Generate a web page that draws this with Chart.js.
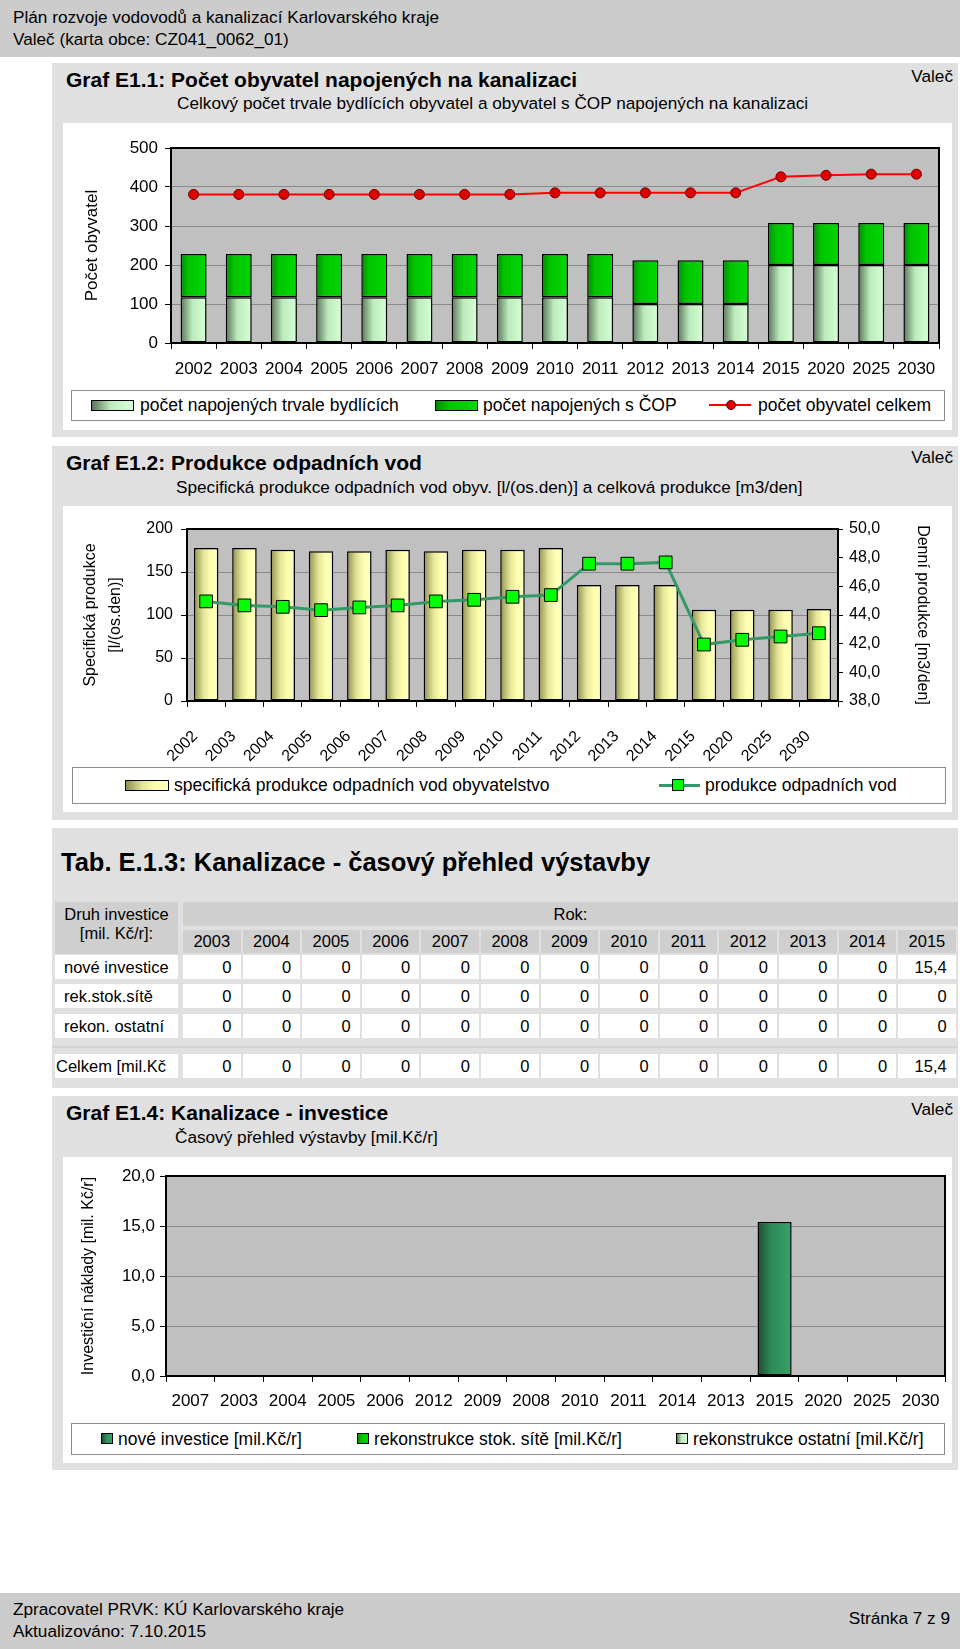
<!DOCTYPE html>
<html lang="cs">
<head>
<meta charset="utf-8">
<title>Kanalizace – Valeč</title>
<script src="https://cdn.jsdelivr.net/npm/chart.js@4.4.1/dist/chart.umd.min.js"></script>
<style>
  html, body { margin: 0; padding: 0; }
  body { position: relative; width: 960px; height: 1649px; overflow: hidden; background: #fff;
         font-family: "Liberation Sans", Arial, sans-serif; color: #000; }
  .band { position: absolute; left: 0; width: 960px; background: #cccccc; }
  .panel { position: absolute; left: 52px; width: 906px; background: #e0e0e0; }
  .white { position: absolute; left: 63px; width: 889px; background: #fff; }
  .t { position: absolute; white-space: nowrap; line-height: 1; font-size: 17.2px; }
  .h1 { font-size: 21px; font-weight: bold; }
  .h2 { font-size: 25.5px; font-weight: bold; }
  canvas { position: absolute; }
  .legend { position: absolute; background: #fff; border: 1px solid #8c8c8c; box-sizing: border-box; font-size: 17.5px; }
  .legend .lab { position: absolute; top: 0; white-space: nowrap; }
  .legend .sw { position: absolute; box-sizing: border-box; border: 1.5px solid #000; }
  .legend .ln { position: absolute; }
  .legend .mk { position: absolute; box-sizing: border-box; border: 1px solid #000; }
  .cell { position: absolute; box-sizing: border-box; font-size: 16.5px; white-space: nowrap; overflow: hidden; }
</style>
</head>
<body>

<div class="band" style="top:0;height:57px"></div>
<div class="t" style="left:13px;top:9.4px">Plán rozvoje vodovodů a kanalizací Karlovarského kraje</div>
<div class="t" style="left:13px;top:31.4px">Valeč (karta obce: CZ041_0062_01)</div>

<!-- Graf E1.1 -->
<div class="panel" style="top:63px;height:374px"></div>
<div class="t h1" style="left:66px;top:68.5px">Graf E1.1: Počet obyvatel napojených na kanalizaci</div>
<div class="t" style="right:7px;top:68.4px">Valeč</div>
<div class="t" style="left:177px;top:95.4px">Celkový počet trvale bydlících obyvatel a obyvatel s ČOP napojených na kanalizaci</div>
<div class="white" style="top:123px;height:307px"></div>
<canvas id="c1" width="889" height="262" style="left:63px;top:123px"></canvas>
<div class="legend" style="left:71px;top:390px;width:874px;height:31px;line-height:29px">
  <div class="sw" style="left:19px;top:9px;width:43px;height:11px;background:linear-gradient(to right,#5a735a,#bdebbd 45%,#d6ffd6)"></div>
  <div class="lab" style="left:68px">počet napojených trvale bydlících</div>
  <div class="sw" style="left:363px;top:9px;width:43px;height:11px;background:linear-gradient(to right,#008a00,#00c400 30%,#00d800)"></div>
  <div class="lab" style="left:411px">počet napojených s ČOP</div>
  <div class="ln" style="left:637px;top:13px;width:42px;height:2px;background:#ff0000"></div>
  <div class="mk" style="left:654px;top:9px;width:10px;height:10px;border-radius:50%;background:#e00000;border-color:#700000"></div>
  <div class="lab" style="left:686px">počet obyvatel celkem</div>
</div>

<!-- Graf E1.2 -->
<div class="panel" style="top:446px;height:374px"></div>
<div class="t h1" style="left:66px;top:451.5px">Graf E1.2: Produkce odpadních vod</div>
<div class="t" style="right:7px;top:449.4px">Valeč</div>
<div class="t" style="left:176px;top:479.4px">Specifická produkce odpadních vod obyv. [l/(os.den)] a celková produkce [m3/den]</div>
<div class="white" style="top:506px;height:306px"></div>
<canvas id="c2" width="889" height="256" style="left:63px;top:506px"></canvas>
<div class="legend" style="left:72px;top:767px;width:874px;height:37px;line-height:35px">
  <div class="sw" style="left:52px;top:12px;width:44px;height:11px;background:linear-gradient(to right,#8f8f4f,#e6e69a 40%,#ffffb0 70%,#ffffc4)"></div>
  <div class="lab" style="left:101px">specifická produkce odpadních vod obyvatelstvo</div>
  <div class="ln" style="left:586px;top:16px;width:41px;height:3px;background:#339966"></div>
  <div class="mk" style="left:599px;top:11px;width:12px;height:12px;background:#00ff00"></div>
  <div class="lab" style="left:632px">produkce odpadních vod</div>
</div>

<!-- Tab. E.1.3 -->
<div class="panel" style="top:828px;height:260px"></div>
<div class="t h2" style="left:61px;top:850.3px">Tab. E.1.3: Kanalizace - časový přehled výstavby</div>
<div id="tab"></div>

<!-- Graf E1.4 -->
<div class="panel" style="top:1096px;height:374px"></div>
<div class="t h1" style="left:66px;top:1101.5px">Graf E1.4: Kanalizace - investice</div>
<div class="t" style="right:7px;top:1101.4px">Valeč</div>
<div class="t" style="left:175px;top:1129.4px">Časový přehled výstavby [mil.Kč/r]</div>
<div class="white" style="top:1157px;height:306px"></div>
<canvas id="c4" width="889" height="264" style="left:63px;top:1157px"></canvas>
<div class="legend" style="left:71px;top:1423px;width:874px;height:32px;line-height:30px">
  <div class="sw" style="left:29px;top:9px;width:12px;height:11px;border-width:1px;background:linear-gradient(to right,#1c4a30,#2e8b57 40%,#3aa06a)"></div>
  <div class="lab" style="left:46px">nové investice [mil.Kč/r]</div>
  <div class="sw" style="left:285px;top:9px;width:12px;height:11px;border-width:1px;background:linear-gradient(to right,#008a00,#00c400 30%,#00d800)"></div>
  <div class="lab" style="left:302px">rekonstrukce stok. sítě [mil.Kč/r]</div>
  <div class="sw" style="left:604px;top:9px;width:12px;height:11px;border-width:1px;background:linear-gradient(to right,#5a735a,#bdebbd 45%,#d6ffd6)"></div>
  <div class="lab" style="left:621px">rekonstrukce ostatní [mil.Kč/r]</div>
</div>

<div class="band" style="top:1593px;height:56px"></div>
<div class="t" style="left:13px;top:1601.4px">Zpracovatel PRVK: KÚ Karlovarského kraje</div>
<div class="t" style="left:13px;top:1623.4px">Aktualizováno: 7.10.2015</div>
<div class="t" style="right:10px;top:1610.4px">Stránka 7 z 9</div>

<script>
// --- Graf E1.1 ---
const years = ['2002','2003','2004','2005','2006','2007','2008','2009','2010','2011','2012','2013','2014','2015','2020','2025','2030'];
const trvaleBydlici = [117,117,117,117,117,117,117,117,117,117,100,100,100,200,200,200,200];
const napojeniCOP = [111,111,111,111,111,111,111,111,111,111,112,112,112,108,108,108,108];
const obyvatelCelkem = [381,381,381,381,381,381,381,381,385,385,385,385,385,426,430,433,433];

// --- Graf E1.2 ---
const specProdukce = [178,178,176,174,174,176,174,176,176,178,135,135,135,106,106,106,107];
const produkceOV = [44.95,44.67,44.57,44.34,44.53,44.67,44.95,45.06,45.27,45.39,47.58,47.58,47.67,41.94,42.27,42.5,42.73];

// --- Tab. E.1.3 ---
const tabYears = ['2003','2004','2005','2006','2007','2008','2009','2010','2011','2012','2013','2014','2015'];
const noveInvTab = [0,0,0,0,0,0,0,0,0,0,0,0,15.4];
const rekStokTab = [0,0,0,0,0,0,0,0,0,0,0,0,0];
const rekOstTab  = [0,0,0,0,0,0,0,0,0,0,0,0,0];

// --- Graf E1.4 ---
const invYears = ['2007','2003','2004','2005','2006','2012','2009','2008','2010','2011','2014','2013','2015','2020','2025','2030'];
const noveInvestice = [0,0,0,0,0,0,0,0,0,0,0,0,15.4,0,0,0];
const rekStokSite   = [0,0,0,0,0,0,0,0,0,0,0,0,0,0,0,0];
const rekOstatni    = [0,0,0,0,0,0,0,0,0,0,0,0,0,0,0,0];

const cz = v => v.toFixed(1).replace('.', ',');
const fmt = v => Number.isInteger(v) ? String(v) : cz(v);

Chart.defaults.font.family = '"Liberation Sans", Arial, sans-serif';
Chart.defaults.color = '#000';
Chart.defaults.animation = false;
Chart.defaults.events = [];
Chart.defaults.plugins.legend.display = false;
Chart.defaults.plugins.tooltip.enabled = false;

// šedé pozadí a rámeček plochy grafu
const plotFrame = {
  id: 'plotFrame',
  beforeDraw(chart) {
    const {ctx, chartArea: a} = chart;
    ctx.save();
    ctx.fillStyle = '#c0c0c0';
    ctx.fillRect(a.left, a.top, a.width, a.height);
    ctx.restore();
  },
  afterDatasetsDraw(chart) {
    const {ctx, chartArea: a} = chart;
    ctx.save();
    ctx.strokeStyle = '#000';
    ctx.lineWidth = 2;
    ctx.strokeRect(a.left, a.top, a.width, a.height);
    ctx.restore();
  }
};

// vodorovný přechod přes šířku sloupce (jako v Excelu)
function barGradient(stops, pct) {
  return (c) => {
    const chart = c.chart;
    const x = chart.scales && chart.scales.x;
    if (!x || !(x.width > 0) || c.dataIndex == null) return stops[1][1];
    const w = x.width / chart.data.labels.length * pct;
    const cx = x.getPixelForValue(c.dataIndex);
    const g = chart.ctx.createLinearGradient(cx - w / 2, 0, cx + w / 2, 0);
    stops.forEach(s => g.addColorStop(s[0], s[1]));
    return g;
  };
}
const palePal   = [[0,'#5a735a'],[0.45,'#bdebbd'],[1,'#d6ffd6']];
const greenPal  = [[0,'#008a00'],[0.3,'#00c400'],[1,'#00d800']];
const yellowPal = [[0,'#8f8f4f'],[0.4,'#e6e69a'],[0.7,'#ffffb0'],[1,'#ffffc4']];
const darkPal   = [[0,'#1c4a30'],[0.4,'#2e8b57'],[1,'#3aa06a']];

const gridY = { color: '#8a8a8a', lineWidth: 1, tickLength: 6, tickColor: '#000' };
const gridX = { drawOnChartArea: false, tickLength: 6, tickColor: '#000', offset: true };
const axisBorder = { color: '#000', width: 2 };

// Graf E1.1
new Chart(document.getElementById('c1'), {
  type: 'bar',
  data: {
    labels: years,
    datasets: [
      { label: 'počet napojených trvale bydlících', data: trvaleBydlici, stack: 'nap', order: 1,
        backgroundColor: barGradient(palePal, 0.575), borderColor: '#000', borderWidth: 1.5, borderSkipped: false,
        barPercentage: 0.575, categoryPercentage: 1 },
      { label: 'počet napojených s ČOP', data: napojeniCOP, stack: 'nap', order: 1,
        backgroundColor: barGradient(greenPal, 0.575), borderColor: '#000', borderWidth: 1.5, borderSkipped: false,
        barPercentage: 0.575, categoryPercentage: 1 },
      { type: 'line', label: 'počet obyvatel celkem', data: obyvatelCelkem, stack: 'celk', order: 0,
        borderColor: '#ff0000', borderWidth: 2, tension: 0,
        pointRadius: 5, pointBackgroundColor: '#e00000', pointBorderColor: '#700000', pointBorderWidth: 1 }
    ]
  },
  options: {
    responsive: false,
    layout: { padding: { top: 25, right: 13, left: 0, bottom: 0 } },
    scales: {
      x: { stacked: true, grid: gridX, border: axisBorder,
           ticks: { font: { size: 17 }, padding: 10, maxRotation: 0, minRotation: 0, autoSkip: false },
           afterFit(s) { s.height = 42; } },
      y: { stacked: true, min: 0, max: 500, grid: gridY, border: axisBorder,
           ticks: { stepSize: 100, font: { size: 17 }, padding: 7 },
           title: { display: true, text: 'Počet obyvatel', font: { size: 17 }, padding: { top: 18.8 } },
           afterFit(s) { s.width = 108; } }
    }
  },
  plugins: [plotFrame]
});

// Graf E1.2
new Chart(document.getElementById('c2'), {
  type: 'bar',
  data: {
    labels: years,
    datasets: [
      { label: 'specifická produkce odpadních vod obyvatelstvo', data: specProdukce, yAxisID: 'y', order: 1,
        backgroundColor: barGradient(yellowPal, 0.64), borderColor: '#000', borderWidth: 1.5, borderSkipped: false,
        barPercentage: 0.64, categoryPercentage: 1 },
      { type: 'line', label: 'produkce odpadních vod', data: produkceOV, yAxisID: 'y2', order: 0,
        borderColor: '#339966', borderWidth: 3, tension: 0,
        pointStyle: 'rect', pointRadius: 9, pointBackgroundColor: '#00ff00', pointBorderColor: '#000', pointBorderWidth: 1 }
    ]
  },
  options: {
    responsive: false,
    layout: { padding: { top: 23, right: 0, left: 0, bottom: 0 } },
    scales: {
      x: { grid: gridX, border: axisBorder,
           ticks: { font: { size: 16 }, padding: 20, labelOffset: -11, maxRotation: 45, minRotation: 45, autoSkip: false },
           afterFit(s) { s.height = 61; } },
      y: { position: 'left', min: 0, max: 200, grid: gridY, border: axisBorder,
           ticks: { stepSize: 50, font: { size: 16 }, padding: 8 },
           title: { display: true, text: ['Specifická produkce', '[l/(os.den)]'],
                    font: { size: 16, lineHeight: 1.5625 }, padding: { top: 15 } },
           afterFit(s) { s.width = 124; } },
      y2: { position: 'right', min: 38, max: 50, border: axisBorder,
            grid: { drawOnChartArea: false, tickLength: 5, tickColor: '#000' },
            ticks: { stepSize: 2, font: { size: 16 }, padding: 6, callback: v => cz(v) },
            title: { display: true, text: 'Denní produkce [m3/den]', font: { size: 16 }, padding: { top: 20.4 } },
            afterFit(s) { s.width = 114; } }
    }
  },
  plugins: [plotFrame]
});

// Graf E1.4
new Chart(document.getElementById('c4'), {
  type: 'bar',
  data: {
    labels: invYears,
    datasets: [
      { label: 'nové investice [mil.Kč/r]', data: noveInvestice, backgroundColor: barGradient(darkPal, 0.7),
        borderColor: '#000', borderWidth: 1.5, borderSkipped: false, barPercentage: 0.7, categoryPercentage: 1 },
      { label: 'rekonstrukce stok. sítě [mil.Kč/r]', data: rekStokSite, backgroundColor: barGradient(greenPal, 0.7),
        borderColor: '#000', borderWidth: 1.5, borderSkipped: false, barPercentage: 0.7, categoryPercentage: 1 },
      { label: 'rekonstrukce ostatní [mil.Kč/r]', data: rekOstatni, backgroundColor: barGradient(palePal, 0.7),
        borderColor: '#000', borderWidth: 1.5, borderSkipped: false, barPercentage: 0.7, categoryPercentage: 1 }
    ]
  },
  options: {
    responsive: false,
    layout: { padding: { top: 19, right: 7, left: 0, bottom: 0 } },
    scales: {
      x: { stacked: true, grid: gridX, border: axisBorder,
           ticks: { font: { size: 17 }, padding: 9, maxRotation: 0, minRotation: 0, autoSkip: false },
           afterFit(s) { s.height = 45; } },
      y: { stacked: true, min: 0, max: 20, grid: gridY, border: axisBorder,
           ticks: { stepSize: 5, font: { size: 17 }, padding: 5, callback: v => cz(v) },
           title: { display: true, text: 'Investiční náklady [mil. Kč/r]', font: { size: 16 }, padding: { top: 16.4 } },
           afterFit(s) { s.width = 103; } }
    }
  },
  plugins: [plotFrame]
});

// Tabulka E.1.3
(function buildTable() {
  const tab = document.getElementById('tab');
  const add = (x, y, w, h, text, bg, align, pad) => {
    const d = document.createElement('div');
    d.className = 'cell';
    d.style.cssText = `left:${x}px;top:${y}px;width:${w}px;height:${h}px;line-height:${h}px;` +
      `background:${bg};text-align:${align};padding:0 ${pad}px`;
    d.textContent = text;
    tab.appendChild(d);
    return d;
  };
  const colX = i => 183 + i * 59.6;
  const hdr = '#cfcfcf';
  const druh = add(55, 902, 123, 52, '', hdr, 'center', 0);
  druh.style.lineHeight = '19px';
  druh.style.paddingTop = '3px';
  druh.innerHTML = 'Druh investice<br>[mil. Kč/r]:';
  add(183, 902, 775, 24, 'Rok:', hdr, 'center', 0);
  tabYears.forEach((y, i) => add(colX(i), 930, 57.5, 23, y, hdr, 'center', 0));

  const rows = [
    ['nové investice', noveInvTab, 955, 9],
    ['rek.stok.sítě', rekStokTab, 984, 9],
    ['rekon. ostatní', rekOstTab, 1014, 9]
  ];
  const total = tabYears.map((_, i) => noveInvTab[i] + rekStokTab[i] + rekOstTab[i]);
  rows.push(['Celkem [mil.Kč', total, 1054, 1]);
  rows.forEach(([name, vals, top, pad]) => {
    add(55, top, 123, 24, name, '#fff', 'left', pad);
    vals.forEach((v, i) => add(colX(i), top, 57.5, 24, fmt(v), '#fff', 'right', 9));
  });
  const sep = document.createElement('div');
  sep.style.cssText = 'position:absolute;left:52px;top:1046px;width:906px;height:2px;background:#d2d2d2';
  tab.appendChild(sep);
})();
</script>
</body>
</html>
